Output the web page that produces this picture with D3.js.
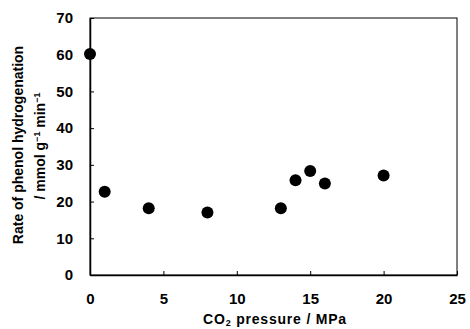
<!DOCTYPE html>
<html>
<head>
<meta charset="utf-8">
<script src="https://cdn.jsdelivr.net/npm/d3@7"></script>
<style>
  body { margin: 0; background: #fff; }
  text { font-family: "Liberation Sans", Arial, sans-serif; font-weight: bold; }
</style>
</head>
<body>
<svg width="470" height="329"></svg>
<script>
// CO2 pressure (MPa) vs rate of phenol hydrogenation
var pressure = [0, 1, 4, 8, 13, 14, 15, 16, 20];
var rate = [60.2, 22.7, 18.2, 17.0, 18.2, 25.8, 28.3, 24.9, 27.1];
var xTicks = [0, 5, 10, 15, 20, 25];
var yTicks = [0, 10, 20, 30, 40, 50, 60, 70];

var svg = d3.select('svg');
var plotLeft = 90, plotRight = 457, plotTop = 18, plotBottom = 275;

var x = d3.scaleLinear().domain([0, 25]).range([plotLeft, plotRight]);
var y = d3.scaleLinear().domain([0, 70]).range([plotBottom, plotTop]);

svg.append('rect')
    .attr('x', plotLeft)
    .attr('y', plotTop)
    .attr('width', plotRight - plotLeft)
    .attr('height', plotBottom - plotTop)
    .style('fill', 'none')
    .style('stroke', 'black')
    .style('stroke-width', 1);

var xAxis = svg.append('g')
    .attr('transform', 'translate(0,' + plotBottom + ')')
    .call(d3.axisBottom(x).tickValues(xTicks).tickSizeInner(-4).tickSizeOuter(0).tickPadding(18));

var yAxis = svg.append('g')
    .attr('transform', 'translate(' + plotLeft + ',0)')
    .call(d3.axisLeft(y).tickValues(yTicks).tickSizeInner(-4).tickSizeOuter(0).tickPadding(17));

[xAxis, yAxis].forEach(function(g){
    g.select('.domain').style('stroke', 'black').style('stroke-width', 1.5);
    g.selectAll('.tick line').style('stroke', 'black');
    g.selectAll('.tick text')
        .style('font-size', '15px')
        .style('font-weight', 'bold')
        .style('fill', 'black');
});

svg.selectAll('circle')
    .data(pressure)
    .enter()
    .append('circle')
    .attr('cx', function(d){ return x(d); })
    .attr('cy', function(d, i){ return y(rate[i]); })
    .attr('r', 6)
    .style('fill', 'black');

// x axis title
var xt = svg.append('text')
    .attr('x', 275)
    .attr('y', 324)
    .attr('text-anchor', 'middle')
    .style('font-size', '14px')
    .style('letter-spacing', '0.8px');
xt.append('tspan').text('CO');
xt.append('tspan').attr('dy', 2).style('font-size', '9px').text('2');
xt.append('tspan').attr('dy', -2).text(' pressure / MPa');

// y axis title, two lines
svg.append('text')
    .attr('transform', 'translate(23,145) rotate(-90)')
    .attr('text-anchor', 'middle')
    .style('font-size', '14px')
    .text('Rate of phenol hydrogenation');

var yt = svg.append('text')
    .attr('transform', 'translate(45,146) rotate(-90)')
    .attr('text-anchor', 'middle')
    .style('font-size', '14px');
yt.append('tspan').text('/ mmol g');
yt.append('tspan').attr('dy', -5).style('font-size', '9px').text('\u22121');
yt.append('tspan').attr('dy', 5).text(' min');
yt.append('tspan').attr('dy', -5).style('font-size', '9px').text('\u22121');
</script>
</body>
</html>
